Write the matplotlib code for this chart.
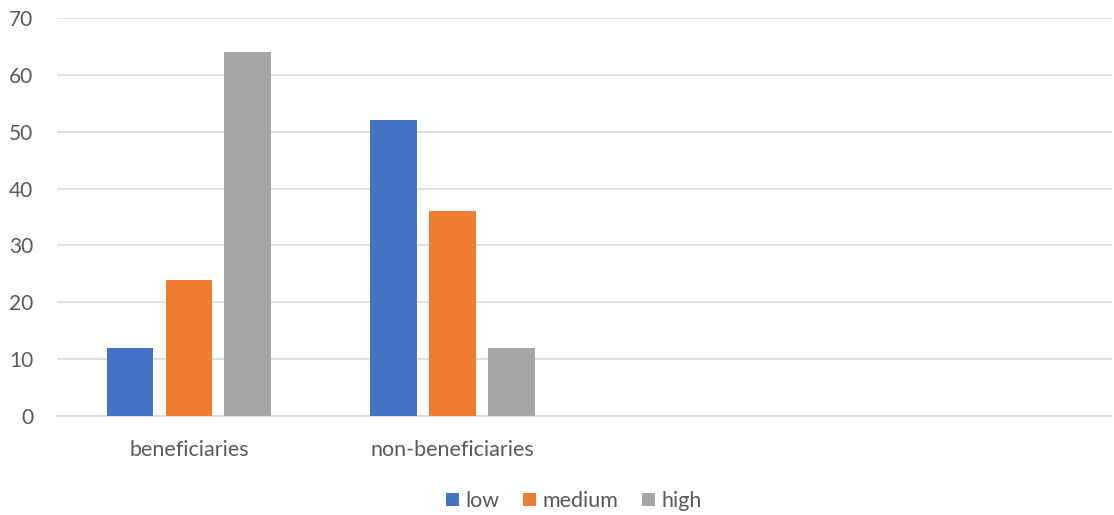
import matplotlib
matplotlib.use("Agg")
import matplotlib.pyplot as plt
import numpy as np

# Grouped column chart, income groups by programme status
categories = ["beneficiaries", "non-beneficiaries"]
n_slots = 4  # category slots on the axis (last two are empty)
series = ["low", "medium", "high"]
low = [12, 52]
medium = [24, 36]
high = [64, 12]
colors = ["#4472C4", "#ED7D31", "#A5A5A5"]
yticks = [0, 10, 20, 30, 40, 50, 60, 70]

plt.rcParams['font.family'] = ['Lato', 'DejaVu Sans']
text_color = "#595959"
grid_color = "#D9D9D9"

fig = plt.figure(figsize=(11.14, 5.15), dpi=100)
ax = fig.add_axes([57 / 1114, 99 / 515, 1055 / 1114, 398 / 515])

x = np.arange(len(categories)) + 0.5
width = 0.177
step = 0.223
for i, (name, vals) in enumerate(zip(series, [low, medium, high])):
    ax.bar(x + (i - 1) * step, vals, width, color=colors[i], label=name, zorder=3)

ax.set_xlim(0, n_slots)
ax.set_ylim(0, 70)
ax.set_yticks(yticks)
ax.set_xticks(x)
ax.set_xticklabels(categories)
ax.yaxis.grid(True, color=grid_color, linewidth=1.2, zorder=0)
ax.tick_params(axis='both', length=0, labelsize=15.5, colors=text_color)
ax.tick_params(axis='y', labelsize=15, pad=17)
ax.tick_params(axis='x', pad=17)
for side in ['top', 'right', 'left']:
    ax.spines[side].set_visible(False)
ax.spines['bottom'].set_color(grid_color)
ax.spines['bottom'].set_linewidth(1.2)

leg = fig.legend(loc='lower center', bbox_to_anchor=(0.515, -0.03), ncol=3, frameon=False,
                 fontsize=15.5, handlelength=0.6, handleheight=0.6, handletextpad=0.3,
                 columnspacing=1.1)
for t in leg.get_texts():
    t.set_color(text_color)

fig.savefig("out.png", dpi=100)
